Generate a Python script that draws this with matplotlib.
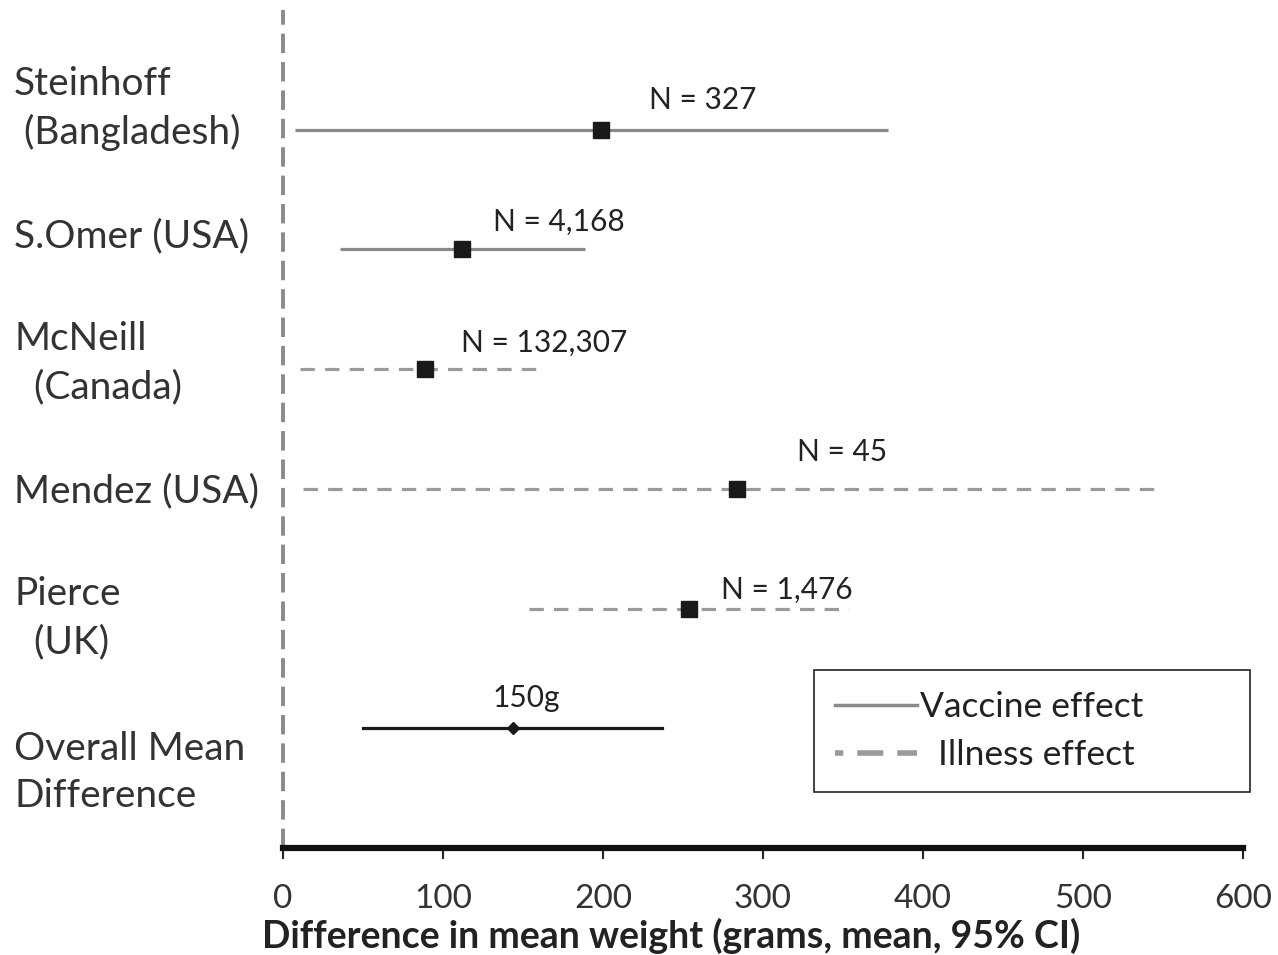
import matplotlib
matplotlib.use('Agg')
import matplotlib.pyplot as plt
import matplotlib.transforms as mtransforms
from matplotlib.lines import Line2D

plt.rcParams['font.family'] = ['Lato', 'DejaVu Sans']

studies = ['Steinhoff\n (Bangladesh)', 'S.Omer (USA)', 'McNeill\n  (Canada)',
           'Mendez (USA)', 'Pierce\n  (UK)', 'Overall Mean\nDifference']
effect = ['vaccine', 'vaccine', 'illness', 'illness', 'illness', 'overall']
mean_diff = [199, 112, 89, 284, 254, 144]
ci_low = [7.5, 35.6, 10.6, 12.5, 154, 50]
ci_high = [378, 189, 162, 549, 354, 237]
n_labels = ['N = 327', 'N = 4,168', 'N = 132,307', 'N = 45', 'N = 1,476', '150g']
xticks = [0, 100, 200, 300, 400, 500, 600]

# layout only
n_label_x = [229, 131, 111, 321, 274, 131]
n_label_dy = [-0.25, -0.23, -0.22, -0.31, -0.16, -0.25]
name_dy = [-0.18, -0.11, -0.05, 0.02, 0.08, 0.37]

fig = plt.figure(figsize=(12.78, 9.55), dpi=100)
ax = fig.add_axes([0.2214, 0.112, 0.7512, 0.8775])

for i in range(len(studies)):
    if effect[i] == 'vaccine':
        ax.plot([ci_low[i], ci_high[i]], [i, i], color='#8a8a8a', lw=2.3, solid_capstyle='butt')
        ax.plot(mean_diff[i], i, marker='s', color='#1a1a1a', ms=11, ls='none')
    elif effect[i] == 'illness':
        ax.plot([ci_low[i], ci_high[i]], [i, i], color='#9a9a9a', lw=2.3, ls=(0, (4.5, 3.2)))
        ax.plot(mean_diff[i], i, marker='s', color='#1a1a1a', ms=11, ls='none')
    else:
        ax.plot([ci_low[i], ci_high[i]], [i, i], color='#1a1a1a', lw=2.3)
        ax.plot(mean_diff[i], i, marker='D', color='#1a1a1a', ms=6, ls='none')
    ax.text(n_label_x[i], i + n_label_dy[i], n_labels[i], fontsize=21.5, color='#222222',
            ha='left', va='center')

trans = mtransforms.blended_transform_factory(fig.transFigure, ax.transData)
for i, name in enumerate(studies):
    ax.text(14 / 1278, i + name_dy[i], name, transform=trans, fontsize=28, color='#333333',
            ha='left', va='center', linespacing=1.4)

ax.axvline(0, color='#8a8a8a', lw=2.8, ls=(0, (5, 2.3)), clip_on=False)

ax.set_xlim(0, 600)
ax.set_ylim(6.0, -1.0)
ax.set_yticks([])
ax.set_xticks(xticks)
ax.set_xticklabels([str(t) for t in xticks], fontsize=24, color='#333333')
ax.tick_params(axis='x', direction='out', length=8, width=1.5, pad=18, color='#222222')
for s in ['top', 'right', 'left']:
    ax.spines[s].set_visible(False)
ax.spines['bottom'].set_linewidth(4.5)
ax.spines['bottom'].set_color('#111111')
ax.set_xlabel('Difference in mean weight (grams, mean, 95% CI)', fontsize=27,
              fontweight='bold', color='#222222')
ax.xaxis.set_label_coords(0.404, -0.083)

handles = [Line2D([], [], color='#8a8a8a', lw=2.5),
           Line2D([], [], color='#9a9a9a', lw=4, ls=(3.2, (4.7, 2.5)))]
leg = ax.legend(handles, ['Vaccine effect', '  Illness effect'], loc='upper left',
                bbox_to_anchor=(814 / 1278, 1 - 797 / 955, 436 / 1278, 127 / 955),
                bbox_transform=fig.transFigure, mode='expand',
                borderaxespad=0, fancybox=False, framealpha=1, edgecolor='#222222',
                fontsize=25.5, handlelength=2.3, handletextpad=0.1, borderpad=0.6,
                labelspacing=0.45)
leg.get_frame().set_linewidth(1.2)
for t in leg.get_texts():
    t.set_color('#222222')

fig.savefig('out.png', dpi=100)
